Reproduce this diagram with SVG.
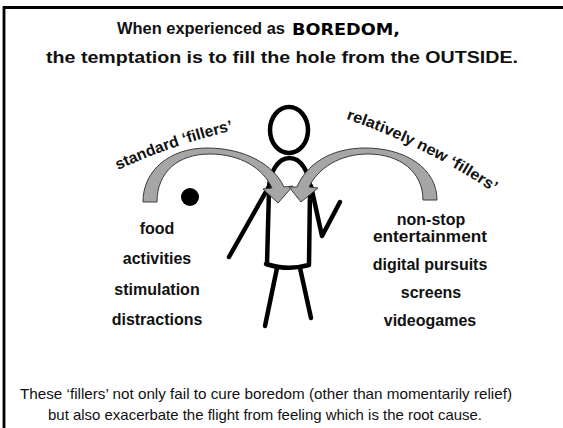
<svg xmlns="http://www.w3.org/2000/svg" width="563" height="428" viewBox="0 0 563 428">
  <style>
    .title { font-family: "Liberation Sans", Arial, sans-serif; font-weight: bold; font-size: 16.5px; fill: #111; }
    .shout { font-family: "DejaVu Sans", "Liberation Sans", sans-serif; font-weight: bold; font-size: 16.5px; fill: #000; }
    .label { font-family: "Liberation Sans", Arial, sans-serif; font-weight: bold; font-size: 15.5px; fill: #111; }
    .item { font-family: "Liberation Sans", Arial, sans-serif; font-weight: bold; font-size: 16px; fill: #111; text-anchor: middle; }
    .note { font-family: "Liberation Sans", Arial, sans-serif; font-size: 15px; fill: #111; }
    .limb { fill: none; stroke: #000; stroke-width: 4.5; stroke-linecap: round; stroke-linejoin: round; }
    .curved { fill: #a6a6a6; stroke: #3c3c3c; stroke-width: 1; stroke-linejoin: miter; }
  </style>
  <defs>
    <filter id="soft" x="-10%" y="-10%" width="120%" height="120%">
      <feGaussianBlur stdDeviation="0.7"/>
    </filter>
    <path id="arcLeft" d="M 118 170 Q 176 143 240 129"/>
    <path id="arcRight" d="M 346 119 C 393 134 455 165 500 197"/>
  </defs>

  <rect width="563" height="428" fill="#fff"/>

  <!-- frame: top and left edges only -->
  <path d="M 4 428 V 7.5 H 563" fill="none" stroke="#000" stroke-width="2.8"/>

  <g id="title">
    <text class="title" x="117" y="34" textLength="168" lengthAdjust="spacingAndGlyphs">When experienced as</text>
    <text class="shout" x="292" y="35" textLength="108" lengthAdjust="spacingAndGlyphs">BOREDOM,</text>
    <text class="title" x="46" y="63" textLength="472" lengthAdjust="spacingAndGlyphs">the temptation is to fill the hole from the OUTSIDE.</text>
  </g>

  <g id="figure" filter="url(#soft)">
    <ellipse class="limb" cx="289" cy="130" rx="19" ry="23"/>
    <path class="limb" d="M 267 264 L 269 190 A 20.5 32 0 0 1 310 190 L 309 264"/>
    <path class="limb" d="M 266 264 Q 288 271 309 265"/>
    <path class="limb" d="M 229 257 L 272 181"/>
    <path class="limb" d="M 311 186 L 322 236 L 340 202"/>
    <path class="limb" d="M 277 268 L 265 326"/>
    <path class="limb" d="M 300 268 L 311 318"/>
  </g>

  <g id="dot">
    <circle cx="190" cy="197" r="9" fill="#000"/>
  </g>

  <g id="connectors">
    <path class="curved" d="M 143 202 C 143 170 170 148 207 148 C 245 148 274 165 284 187 L 293 186 L 278 203 L 263 189 L 272 188 C 263 168 240 154 210 154 C 178 154 157 172 157 202 Z"/>
    <path class="curved" d="M 437 200 C 437 168 405 148 365 148 C 330 148 306 165 297 187 L 289 187 L 301 202 L 318 188 L 309 187 C 318 168 340 154 368 154 C 400 154 423 172 423 200 Z"/>
  </g>

  <g id="label-standard">
    <text class="label"><textPath href="#arcLeft" textLength="122" lengthAdjust="spacingAndGlyphs">standard ‘fillers’</textPath></text>
  </g>
  <g id="label-new">
    <text class="label"><textPath href="#arcRight" textLength="165" lengthAdjust="spacingAndGlyphs">relatively new ‘fillers’</textPath></text>
  </g>

  <g id="list-standard">
    <text class="item" x="157" y="234">food</text>
    <text class="item" x="157" y="264">activities</text>
    <text class="item" x="157" y="295">stimulation</text>
    <text class="item" x="157" y="325">distractions</text>
  </g>

  <g id="list-new">
    <text class="item" x="431" y="225">non-stop</text>
    <text class="item" x="430" y="242" textLength="114" lengthAdjust="spacingAndGlyphs">entertainment</text>
    <text class="item" x="430" y="270">digital pursuits</text>
    <text class="item" x="431" y="298">screens</text>
    <text class="item" x="430" y="326">videogames</text>
  </g>

  <g id="footer">
    <text class="note" x="20" y="399" textLength="492" lengthAdjust="spacingAndGlyphs">These ‘fillers’ not only fail to cure boredom (other than momentarily relief)</text>
    <text class="note" x="48" y="420" textLength="434" lengthAdjust="spacingAndGlyphs">but also exacerbate the flight from feeling which is the root cause.</text>
  </g>
</svg>
